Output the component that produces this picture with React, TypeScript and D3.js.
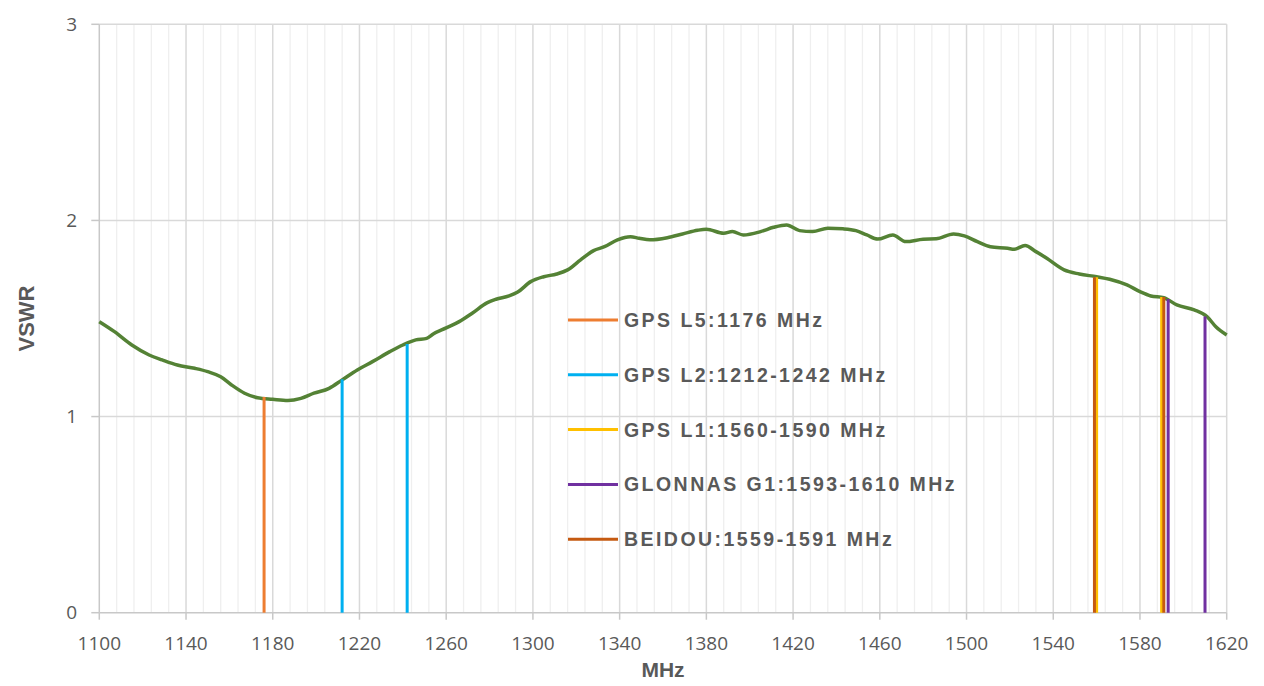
import React from "react";
import * as d3 from "d3";

const freqs = [1100,1107,1115,1123,1129,1136,1144,1150,1156,1161,1167,1173,1180,1187,1193,1199,1206,1212,1219,1226,1234,1240,1246,1251,1254,1260,1266,1272,1279,1283,1289,1293,1299,1305,1311,1316,1322,1328,1333,1339,1345,1349,1354,1362,1369,1376,1380,1388,1392,1397,1405,1411,1417,1423,1429,1436,1443,1449,1454,1459,1466,1472,1480,1486,1494,1499,1505,1511,1519,1522,1527,1532,1537,1545,1552,1560,1566,1574,1580,1585,1591,1597,1605,1611,1615,1620];
const vswr = [1.484,1.433,1.365,1.314,1.289,1.263,1.246,1.229,1.203,1.161,1.119,1.096,1.088,1.082,1.093,1.119,1.144,1.187,1.238,1.280,1.331,1.365,1.391,1.399,1.421,1.452,1.484,1.527,1.581,1.598,1.615,1.635,1.688,1.713,1.727,1.748,1.799,1.846,1.866,1.901,1.917,1.909,1.901,1.912,1.931,1.950,1.955,1.935,1.943,1.926,1.943,1.965,1.977,1.948,1.943,1.960,1.957,1.948,1.926,1.905,1.926,1.892,1.904,1.906,1.931,1.921,1.892,1.866,1.858,1.853,1.872,1.841,1.807,1.748,1.727,1.713,1.700,1.671,1.637,1.615,1.606,1.569,1.544,1.509,1.458,1.416];

const bandLabels = ["GPS L5:1176 MHz","GPS L2:1212-1242 MHz","GPS L1:1560-1590 MHz","GLONNAS G1:1593-1610 MHz","BEIDOU:1559-1591 MHz"];
const bandFreqs = [[1176],[1212,1242],[1560,1590],[1593,1610],[1559,1591]];
const bandTops = [[1.10],[1.19,1.37],[1.71,1.61],[1.60,1.51],[1.71,1.61]];
const bandColors = ["#ED7D31","#00B0F0","#FFC000","#7030A0","#C55A11"];

const xTicks = [1100,1140,1180,1220,1260,1300,1340,1380,1420,1460,1500,1540,1580,1620];
const yTicks = [0,1,2,3];

export default function App() {
  const x = d3.scaleLinear().domain([1100, 1620]).range([99.3, 1226.7]);
  const y = d3.scaleLinear().domain([0, 3]).range([612.7, 24.3]);
  const minor = d3.range(1100, 1621, 8).filter((f) => (f - 1100) % 40 !== 0);
  const pts = freqs.map((f, i) => [f, vswr[i]] as [number, number]);
  const line = d3.line<[number, number]>().x((d) => x(d[0])).y((d) => y(d[1])).curve(d3.curveMonotoneX);
  const tickFont = "'Open Sans', 'Liberation Sans', sans-serif";
  return (
    <svg width={1264} height={686} style={{ position: "absolute", left: 0, top: 0, background: "#fff" }}>
      {minor.map((f) => (
        <line key={"m" + f} x1={x(f)} x2={x(f)} y1={y(3)} y2={y(0)} stroke="#efefef" strokeWidth={1.3} />
      ))}
      {xTicks.slice(1).map((f) => (
        <line key={"M" + f} x1={x(f)} x2={x(f)} y1={y(3)} y2={y(0)} stroke="#d9d9d9" strokeWidth={1.5} />
      ))}
      {yTicks.slice(1).map((v) => (
        <line key={"h" + v} x1={x(1100)} x2={x(1620)} y1={y(v)} y2={y(v)} stroke="#d9d9d9" strokeWidth={1.5} />
      ))}
      <line x1={x(1100)} x2={x(1100)} y1={y(3)} y2={y(0)} stroke="#c8c8c8" strokeWidth={1.5} />
      <line x1={x(1100)} x2={x(1620)} y1={y(0)} y2={y(0)} stroke="#c8c8c8" strokeWidth={1.5} />
      {yTicks.map((v) => (
        <g key={"yt" + v}>
          <line x1={x(1100) - 8} x2={x(1100)} y1={y(v)} y2={y(v)} stroke="#c8c8c8" strokeWidth={1.5} />
          <text x={77} y={y(v)} dy="0.35em" textAnchor="end" fontFamily={tickFont} fontSize={19} fill="#595959">{v}</text>
        </g>
      ))}
      {xTicks.map((f) => (
        <g key={"xt" + f}>
          <line x1={x(f)} x2={x(f)} y1={y(0)} y2={y(0) + 7} stroke="#c8c8c8" strokeWidth={1.5} />
          <text x={x(f)} y={650} textAnchor="middle" fontFamily={tickFont} fontSize={19} fill="#595959">{f}</text>
        </g>
      ))}
      <path d={line(pts) || ""} fill="none" stroke="#548235" strokeWidth={3.5} strokeLinejoin="round" />
      {bandFreqs.map((fs, i) =>
        fs.map((f, j) => (
          <line key={"b" + i + "-" + j} x1={x(f)} x2={x(f)} y1={y(0)} y2={y(bandTops[i][j])} stroke={bandColors[i]} strokeWidth={3} />
        ))
      )}
      {bandLabels.map((lab, i) => {
        const ly = 320 + i * 54.8;
        return (
          <g key={"lg" + i}>
            <line x1={568} x2={618} y1={ly} y2={ly} stroke={bandColors[i]} strokeWidth={3} />
            <text x={624} y={ly} dy="0.36em" fontFamily="'Liberation Sans', Arial, sans-serif" fontWeight="bold" fontSize={19.5} letterSpacing={2.45} fill="#595959">{lab}</text>
          </g>
        );
      })}
      <text x={(x(1100) + x(1620)) / 2} y={677} textAnchor="middle" fontFamily="'Liberation Sans', Arial, sans-serif" fontWeight="bold" fontSize={21} fill="#595959">MHz</text>
      <text transform={`translate(34, ${(y(0) + y(3)) / 2}) rotate(-90)`} textAnchor="middle" fontFamily="'Liberation Sans', Arial, sans-serif" fontWeight="bold" fontSize={22} fill="#595959">VSWR</text>
    </svg>
  );
}
